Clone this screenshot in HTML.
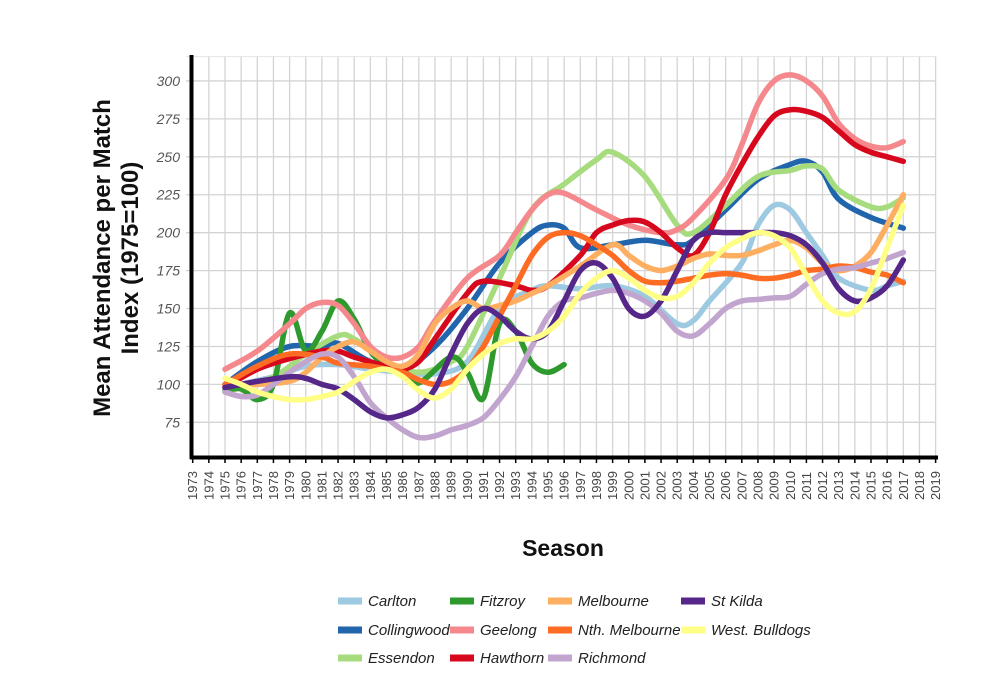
<!DOCTYPE html>
<html><head><meta charset="utf-8"><style>
body{margin:0;background:#fff;}
svg{display:block;font-family:"Liberation Sans",sans-serif;}
</style></head><body>
<svg id="c" width="1000" height="692" viewBox="0 0 1000 692" xmlns="http://www.w3.org/2000/svg">
<g id="grid"></g>
<g id="lines" fill="none" stroke-width="5.5" stroke-linecap="round" stroke-linejoin="round"></g>
<line x1="191.5" y1="55" x2="191.5" y2="459" stroke="#000" stroke-width="4"/>
<line x1="190" y1="457.5" x2="938" y2="457.5" stroke="#000" stroke-width="4"/>
<g id="labels"></g>
<text transform="translate(110,258) rotate(-90)" text-anchor="middle" font-size="24" font-weight="bold" fill="#111">Mean Attendance per Match</text>
<text transform="translate(138,258) rotate(-90)" text-anchor="middle" font-size="24" font-weight="bold" fill="#111">Index (1975=100)</text>
<text x="563" y="556" text-anchor="middle" font-size="23" font-weight="bold" fill="#111">Season</text>
<g id="legend" font-size="15" font-style="italic" fill="#222"></g>
</svg>
<script>
var NS="http://www.w3.org/2000/svg";
function X(y){return 192.7+(y-1973)*16.15;}
function Y(v){return 384.4-(v-100)*1.5173;}
function el(p,t,a,txt){var e=document.createElementNS(NS,t);for(var k in a)e.setAttribute(k,a[k]);if(txt!==undefined)e.textContent=txt;p.appendChild(e);return e;}
var g=document.getElementById('grid'),lb=document.getElementById('labels');
for(var y=1973;y<=2019;y++){var x=X(y);el(g,'line',{x1:x,y1:56,x2:x,y2:462,stroke:'#d4d4d4','stroke-width':1.3});
el(g,'line',{x1:x,y1:457,x2:x,y2:463,stroke:'#000','stroke-width':1.5});
el(lb,'text',{transform:'translate('+(x+4.5)+',500) rotate(-90)','font-size':13,fill:'#444'},y);}
for(var v=75;v<=300;v+=25){var yy=Y(v);el(g,'line',{x1:186,y1:yy,x2:936,y2:yy,stroke:'#d4d4d4','stroke-width':1.3});
el(lb,'text',{x:180,y:yy+5,'text-anchor':'end','font-size':14,'font-style':'italic',fill:'#555'},v);}
el(g,'line',{x1:186,y1:Y(316),x2:936,y2:Y(316),stroke:'#e4e4e4','stroke-width':1});
var S=[
['Carlton','#9ecae1',{1975:98,1978:105,1980:112,1982:113,1984:110,1986:108,1988:107,1990:115,1992:150,1994:162,1995:165,1997:163,1999:165,2001:158,2003:140,2004:142,2005:155,2007:180,2008:205,2009:218,2010:215,2011:200,2012:185,2013:170,2015:162,2016:165,2017:168}],
['Collingwood','#2166ac',{1975:100,1977:115,1979:125,1981:125,1982:127,1984:115,1986:110,1988:125,1990:150,1992:180,1994:200,1995:205,1996:203,1997:190,1999:192,2001:195,2003:192,2004:195,2006:215,2008:235,2010:245,2011:247,2012:240,2013:222,2015:210,2017:203}],
['Essendon','#a6dc7e',{1975:95,1978:105,1980:120,1982:132,1983:130,1985:115,1987:108,1989:115,1990:125,1992:170,1994:215,1996:232,1998:248,1999:253,2001:237,2003:205,2004:200,2006:218,2008:237,2010:241,2011:244,2012:242,2013:228,2015:217,2016:217,2017:223}],
['Fitzroy','#2e9a2e',{1975:96,1976:97,1977:90,1978:100,1979:147,1980:122,1981:135,1982:155,1983:143,1984:122,1985:112,1986:110,1987:101,1989:118,1990:108,1991:91,1992:140,1993:135,1994:114,1995:108,1996:113}],
['Geelong','#f4888c',{1975:110,1977:122,1979:140,1980:150,1981:154,1982:152,1983:140,1984:125,1985:118,1986:118,1987:125,1988:142,1990:170,1992:185,1993:200,1994:215,1995:225,1996:226,1998:215,2000:205,2002:200,2003:202,2004:210,2006:235,2007:258,2008:285,2009:300,2010:304,2011:300,2012:290,2013:272,2014:262,2015:257,2016:256,2017:260}],
['Hawthorn','#d7081e',{1975:98,1977:110,1979:117,1981:122,1982:122,1983:118,1985:112,1986:110,1987:115,1988:130,1990:160,1991:168,1993:165,1994:162,1995:165,1997:185,1998:200,1999:205,2000:208,2001:207,2002:200,2003:190,2004:185,2005:200,2006:225,2007:245,2008:263,2009:277,2010:281,2011:280,2012:276,2013:267,2014:258,2015:253,2016:250,2017:247}],
['Melbourne','#fdae61',{1975:100,1977:100,1979:102,1980:108,1981:118,1982:125,1983:128,1984:122,1985:115,1986:112,1987:120,1988:140,1989:150,1990:155,1991:150,1992:152,1993:155,1994:160,1995:165,1997:178,1999:192,2000:185,2001:178,2002:175,2003:178,2004:183,2005:186,2006:185,2007:185,2008:188,2009:192,2010:195,2011:190,2012:180,2013:175,2014:178,2015:187,2016:205,2017:225}],
['Nth. Melbourne','#fd6c22',{1975:100,1977:112,1979:120,1981:118,1982:114,1984:112,1985:110,1986:108,1987:103,1988:100,1989:102,1990:110,1991:125,1992:145,1993:165,1994:185,1995:197,1996:200,1997:198,1998:192,1999:185,2000:175,2001:168,2002:167,2003:168,2004:170,2005:172,2006:173,2007:172,2008:170,2009:170,2010:172,2011:175,2012:176,2013:178,2014:177,2015:174,2016:172,2017:167}],
['Richmond','#c2a5cf',{1975:95,1976:92,1977:93,1978:100,1979:108,1980:115,1981:120,1982:118,1983:105,1984:88,1985:78,1986:70,1987:65,1988:66,1989:70,1990:73,1991:78,1992:90,1993:105,1994:125,1995:145,1996:155,1997:157,1998:160,1999:162,2000:160,2001:155,2002:147,2003:135,2004:132,2005:140,2006:150,2007:155,2008:156,2009:157,2010:158,2011:166,2012:173,2013:176,2014:177,2015:180,2016:183,2017:187}],
['St Kilda','#542788',{1975:98,1976:100,1977:102,1979:105,1980:104,1981:100,1982:97,1983:90,1984:82,1985:78,1986:80,1987:85,1988:97,1989:120,1990:140,1991:150,1992:145,1993:135,1994:130,1995:135,1996:155,1997:175,1998:180,1999:170,2000:150,2001:145,2002:155,2003:175,2004:195,2005:200,2006:200,2007:200,2008:200,2009:200,2010:198,2011:192,2012:180,2013:163,2014:155,2015:157,2016:165,2017:182}],
['West. Bulldogs','#ffff88',{1975:104,1976:100,1977:95,1978:92,1979:90,1980:90,1981:92,1982:95,1983:102,1984:108,1985:110,1986:105,1987:96,1988:91,1989:97,1990:110,1991:120,1992:127,1993:130,1994:130,1995:135,1996:145,1997:160,1998:170,1999:175,2000:170,2001:162,2002:157,2003:158,2004:167,2005:180,2006:190,2007:196,2008:200,2009:198,2010:190,2011:172,2012:155,2013:147,2014:148,2015:163,2016:190,2017:218}]
];
var L=document.getElementById('lines');
S.forEach(function(s){var p=Object.keys(s[2]).map(function(k){return [X(+k),Y(s[2][k])];});
var d='M'+p[0][0]+','+p[0][1];
for(var i=0;i<p.length-1;i++){var p0=p[i-1]||p[i],p1=p[i],p2=p[i+1],p3=p[i+2]||p2;
d+='C'+(p1[0]+(p2[0]-p0[0])/6)+','+(p1[1]+(p2[1]-p0[1])/6)+' '+(p2[0]-(p3[0]-p1[0])/6)+','+(p2[1]-(p3[1]-p1[1])/6)+' '+p2[0]+','+p2[1];}
el(L,'path',{d:d,stroke:s[1]});});
var lg=document.getElementById('legend');
var cols=[338,450,548,681],rows=[601,630,658];
var order=[[0,0],[0,1],[0,2],[1,0],[1,1],[1,2],[2,0],[2,1],[2,2],[3,0],[3,1]];
S.forEach(function(s,i){var c=cols[order[i][0]],r=rows[order[i][1]];
el(lg,'rect',{x:c,y:r-3.5,width:24,height:7,fill:s[1]});
el(lg,'text',{x:c+30,y:r+5},s[0]);});
</script>
</body></html>
